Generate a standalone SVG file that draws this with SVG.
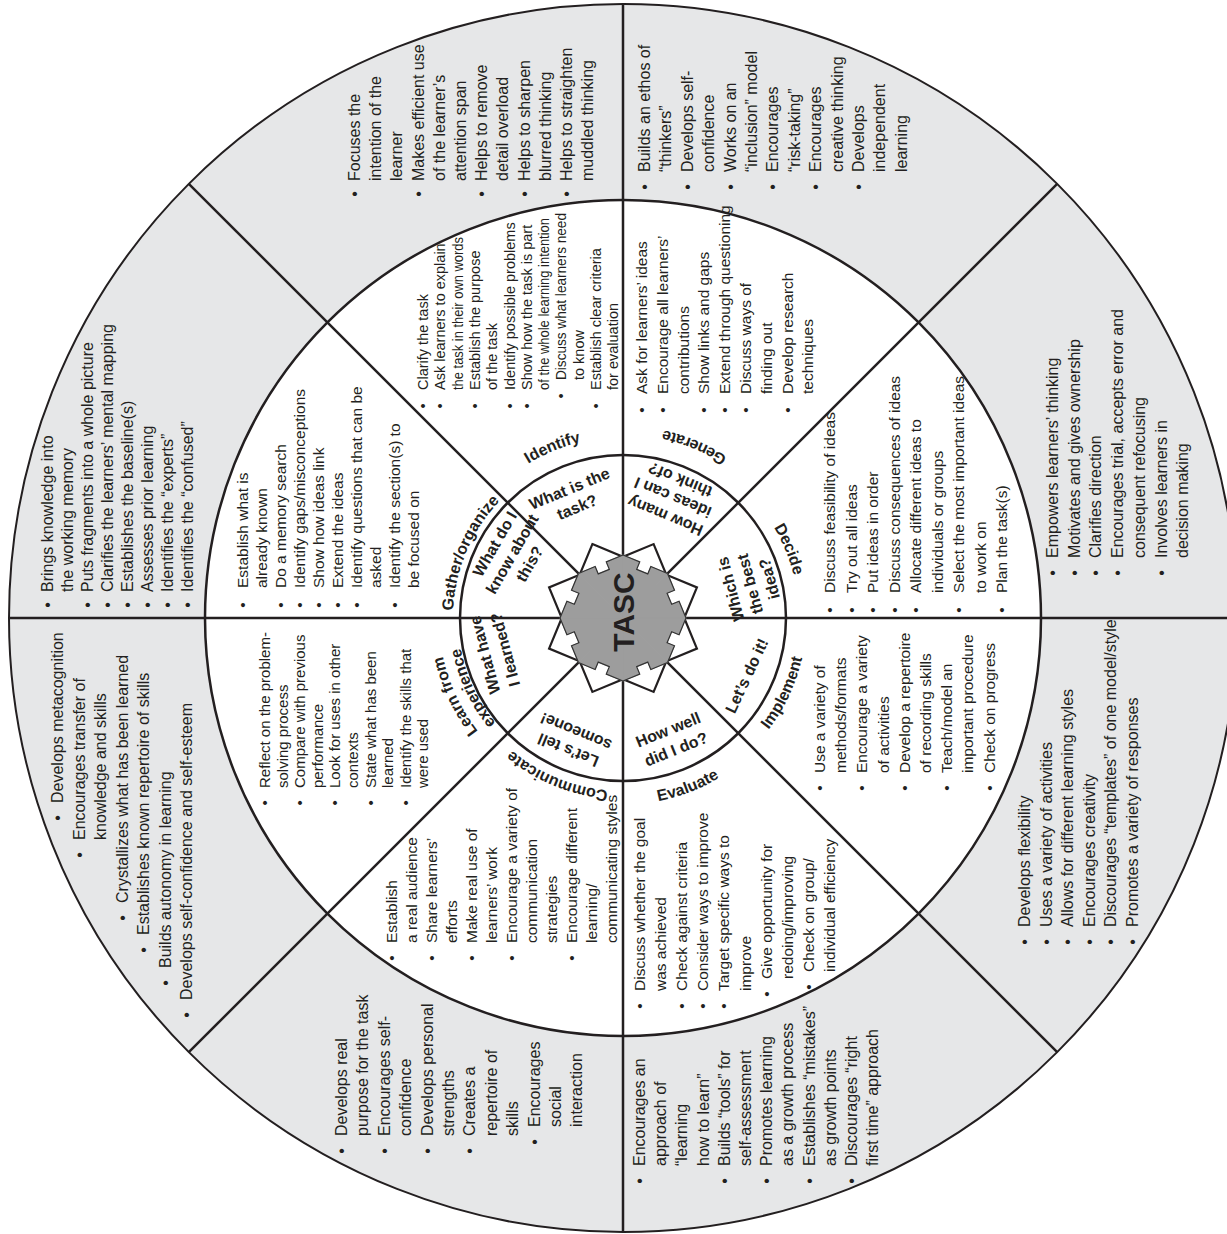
<svg xmlns="http://www.w3.org/2000/svg" width="1227" height="1234" viewBox="0 0 1227 1234">
<style>
.t{font-family:"Liberation Sans",Arial,sans-serif;fill:#231f20}
.g{font-size:16px}
.w{font-size:15.5px}
.s{font-size:14.5px}
.p{font-size:15px}
.lab{font-family:"Liberation Sans",Arial,sans-serif;fill:#231f20;font-size:16px;font-weight:bold}
.q{font-family:"Liberation Sans",Arial,sans-serif;fill:#231f20;font-size:16px;font-weight:bold;text-anchor:middle}
.ring{stroke:#231f20;stroke-width:2.5}
.ln{stroke:#231f20;stroke-width:2.5;fill:none}
</style>
<defs>
<polygon id="gw" points="0,0 0,-63 16.73,-56.07 13.67,-48.68 24.76,-44.09 27.82,-51.48 44.55,-44.55" fill="#9d9d9d" stroke="#9d9d9d" stroke-width="0.8"/>
<polyline id="ge" points="0,-63 16.73,-56.07 13.67,-48.68 24.76,-44.09 27.82,-51.48 44.55,-44.55" fill="none" stroke="#333" stroke-width="1.2"/>
<path id="a-identify" d="M442.17,625.90 A181,181 0 0 1 756.45,495.72"/>
<path id="a-generate" d="M814.82,626.38 A192,192 0 0 0 481.44,488.29"/>
<path id="a-decide" d="M615.32,442.17 A176,176 0 0 1 741.90,747.76"/>
<path id="a-implement" d="M607.01,800.80 A183.5,183.5 0 0 0 752.75,488.25"/>
<path id="a-evaluate" d="M482.25,740.36 A186.5,186.5 0 0 0 809.47,614.75"/>
<path id="a-communicate" d="M750.55,734.88 A173,173 0 0 1 450.16,610.45"/>
<path id="a-learn" d="M639.04,801.30 A184,184 0 0 1 492.89,487.89"/>
<path id="a-exp" d="M637.38,782.37 A165,165 0 0 1 506.33,501.33"/>
<path id="a-gather" d="M507.06,742.33 A170,170 0 0 1 631.90,448.23"/>
</defs>

<g id="rings">
<circle cx="623" cy="618" r="614" fill="#e6e7e8" stroke="#231f20" stroke-width="2"/>
<circle cx="623" cy="618" r="418" fill="#fff" class="ring"/>
<circle cx="623" cy="618" r="163" fill="#fff" class="ring"/>
</g>

<g id="connectors">
<line class="ln" x1="623" y1="4" x2="623" y2="1232"/>
<line class="ln" x1="9" y1="618" x2="1237" y2="618"/>
<line class="ln" x1="188.8" y1="183.8" x2="1057.2" y2="1052.2"/>
<line class="ln" x1="1057.2" y1="183.8" x2="188.8" y2="1052.2"/>
</g>

<g id="hub">
<polygon points="592.39,544.09 623,556.77 653.61,544.09 666.30,574.70 696.91,587.39 684.23,618 696.91,648.61 666.30,661.30 653.61,691.91 623,679.23 592.39,691.91 579.70,661.30 549.09,648.61 561.77,618 549.09,587.39 579.70,574.70" fill="#fff" stroke="#231f20" stroke-width="2.2" stroke-linejoin="miter"/>
<g transform="translate(623,618)">
<use href="#gw"/><use href="#gw" transform="rotate(45)"/><use href="#gw" transform="rotate(90)"/><use href="#gw" transform="rotate(135)"/>
<use href="#gw" transform="rotate(180)"/><use href="#gw" transform="rotate(225)"/><use href="#gw" transform="rotate(270)"/><use href="#gw" transform="rotate(315)"/>
<use href="#ge"/><use href="#ge" transform="rotate(45)"/><use href="#ge" transform="rotate(90)"/><use href="#ge" transform="rotate(135)"/>
<use href="#ge" transform="rotate(180)"/><use href="#ge" transform="rotate(225)"/><use href="#ge" transform="rotate(270)"/><use href="#ge" transform="rotate(315)"/>
</g>
<text class="t" font-size="30" font-weight="bold" text-anchor="middle" transform="translate(634,612) rotate(-90)">TASC</text>
</g>

<g id="stage-labels">
<text class="lab"><textPath href="#a-identify" startOffset="50%" text-anchor="middle">Identify</textPath></text>
<text class="lab"><textPath href="#a-generate" startOffset="50%" text-anchor="middle">Generate</textPath></text>
<text class="lab"><textPath href="#a-decide" startOffset="50%" text-anchor="middle">Decide</textPath></text>
<text class="lab"><textPath href="#a-implement" startOffset="50%" text-anchor="middle">Implement</textPath></text>
<text class="lab"><textPath href="#a-evaluate" startOffset="50%" text-anchor="middle">Evaluate</textPath></text>
<text class="lab"><textPath href="#a-communicate" startOffset="50%" text-anchor="middle">Communicate</textPath></text>
<text class="lab"><textPath href="#a-learn" startOffset="50%" text-anchor="middle">Learn from</textPath></text>
<text class="lab"><textPath href="#a-exp" startOffset="50%" text-anchor="middle">experience</textPath></text>
<text class="lab"><textPath href="#a-gather" startOffset="50%" text-anchor="middle">Gather/organize</textPath></text>
</g>

<g id="questions">
<g id="q-task" transform="rotate(-22.5 623 618)"><text class="q" x="623" y="483.5">What is the</text><text class="q" x="623" y="503.5">task?</text></g>
<g id="q-ideas" transform="rotate(202.5 623 618)"><text class="q" x="623" y="734">How many</text><text class="q" x="623" y="754">ideas can I</text><text class="q" x="623" y="773">think of?</text></g>
<g id="q-best" transform="rotate(255 623 618)"><text class="q" x="623" y="735">Which is</text><text class="q" x="623" y="755">the best</text><text class="q" x="623" y="775">idea?</text></g>
<g id="q-do" transform="rotate(295 623 618)"><text class="q" x="623" y="760">Let’s do it!</text></g>
<g id="q-well" transform="rotate(338 623 618)"><text class="q" x="623" y="744">How well</text><text class="q" x="623" y="765">did I do?</text></g>
<g id="q-tell" transform="rotate(202.5 623 618)"><text class="q" x="623" y="480.5">Let’s tell</text><text class="q" x="623" y="500.5">someone!</text></g>
<g id="q-learned" transform="rotate(255 623 618)"><text class="q" x="623" y="480.5">What have</text><text class="q" x="623" y="501.5">I learned?</text></g>
<g id="q-know" transform="rotate(-60 623 618)"><text class="q" x="623" y="475.5">What do I</text><text class="q" x="623" y="495.5">know about</text><text class="q" x="623" y="515.5">this?</text></g>
</g>

<g id="n-focus"><text class="t g" transform="translate(360,181) rotate(-90)">
<tspan x="-15.8" y="0">•</tspan><tspan x="0" y="0">Focuses the</tspan>
<tspan x="0" y="21.2">intention of the</tspan>
<tspan x="0" y="42.4">learner</tspan>
<tspan x="-15.8" y="63.6">•</tspan><tspan x="0" y="63.6">Makes efficient use</tspan>
<tspan x="0" y="84.8">of the learner’s</tspan>
<tspan x="0" y="106">attention span</tspan>
<tspan x="-15.8" y="127.2">•</tspan><tspan x="0" y="127.2">Helps to remove</tspan>
<tspan x="0" y="148.4">detail overload</tspan>
<tspan x="-15.8" y="169.6">•</tspan><tspan x="0" y="169.6">Helps to sharpen</tspan>
<tspan x="0" y="190.8">blurred thinking</tspan>
<tspan x="-15.8" y="212">•</tspan><tspan x="0" y="212">Helps to straighten</tspan>
<tspan x="0" y="233.2">muddled thinking</tspan>
</text></g>

<g id="n-ethos"><text class="t g" transform="translate(650,172) rotate(-90)">
<tspan x="-17.8" y="0">•</tspan><tspan x="0" y="0">Builds an ethos of</tspan>
<tspan x="0" y="21.4">“thinkers”</tspan>
<tspan x="-17.8" y="42.8">•</tspan><tspan x="0" y="42.8">Develops self-</tspan>
<tspan x="0" y="64.2">confidence</tspan>
<tspan x="-17.8" y="85.6">•</tspan><tspan x="0" y="85.6">Works on an</tspan>
<tspan x="0" y="107">“inclusion” model</tspan>
<tspan x="-17.8" y="128.4">•</tspan><tspan x="0" y="128.4">Encourages</tspan>
<tspan x="0" y="149.8">“risk-taking”</tspan>
<tspan x="-17.8" y="171.2">•</tspan><tspan x="0" y="171.2">Encourages</tspan>
<tspan x="0" y="192.6">creative thinking</tspan>
<tspan x="-17.8" y="214">•</tspan><tspan x="0" y="214">Develops</tspan>
<tspan x="0" y="235.4">independent</tspan>
<tspan x="0" y="256.8">learning</tspan>
</text></g>

<g id="n-empowers"><text class="t g" transform="translate(1058,558) rotate(-90)">
<tspan x="-17.8" y="0">•</tspan><tspan x="0" y="0">Empowers learners’ thinking</tspan>
<tspan x="-17.8" y="21.7">•</tspan><tspan x="0" y="21.7">Motivates and gives ownership</tspan>
<tspan x="-17.8" y="43.4">•</tspan><tspan x="0" y="43.4">Clarifies direction</tspan>
<tspan x="-17.8" y="65.1">•</tspan><tspan x="0" y="65.1">Encourages trial, accepts error and</tspan>
<tspan x="0" y="86.8">consequent refocusing</tspan>
<tspan x="-17.8" y="108.5">•</tspan><tspan x="0" y="108.5">Involves learners in</tspan>
<tspan x="0" y="130.2">decision making</tspan>
</text></g>

<g id="n-flexibility"><text class="t g" transform="translate(1030,927) rotate(-90)">
<tspan x="-17.8" y="0">•</tspan><tspan x="0" y="0">Develops flexibility</tspan>
<tspan x="-17.8" y="21.6">•</tspan><tspan x="0" y="21.6">Uses a variety of activities</tspan>
<tspan x="-17.8" y="43.2">•</tspan><tspan x="0" y="43.2">Allows for different learning styles</tspan>
<tspan x="-17.8" y="64.8">•</tspan><tspan x="0" y="64.8">Encourages creativity</tspan>
<tspan x="-17.8" y="86.4">•</tspan><tspan x="0" y="86.4">Discourages “templates” of one model/style</tspan>
<tspan x="-17.8" y="108">•</tspan><tspan x="0" y="108">Promotes a variety of responses</tspan>
</text></g>

<g id="n-learnhow"><text class="t g" transform="translate(645,1166) rotate(-90)">
<tspan x="-17.8" y="0">•</tspan><tspan x="0" y="0">Encourages an</tspan>
<tspan x="0" y="21.2">approach of</tspan>
<tspan x="0" y="42.4">“learning</tspan>
<tspan x="0" y="63.6">how to learn”</tspan>
<tspan x="-17.8" y="84.8">•</tspan><tspan x="0" y="84.8">Builds “tools” for</tspan>
<tspan x="0" y="106">self-assessment</tspan>
<tspan x="-17.8" y="127.2">•</tspan><tspan x="0" y="127.2">Promotes learning</tspan>
<tspan x="0" y="148.4">as a growth process</tspan>
<tspan x="-17.8" y="169.6">•</tspan><tspan x="0" y="169.6">Establishes “mistakes”</tspan>
<tspan x="0" y="190.8">as growth points</tspan>
<tspan x="-17.8" y="212">•</tspan><tspan x="0" y="212">Discourages “right</tspan>
<tspan x="0" y="233.2">first time” approach</tspan>
</text></g>

<g id="n-purpose"><text class="t g" transform="translate(347,1136) rotate(-90)">
<tspan x="-17.8" y="0">•</tspan><tspan x="0" y="0">Develops real</tspan>
<tspan x="0" y="21.4">purpose for the task</tspan>
<tspan x="-17.8" y="42.8">•</tspan><tspan x="0" y="42.8">Encourages self-</tspan>
<tspan x="0" y="64.2">confidence</tspan>
<tspan x="-17.8" y="85.6">•</tspan><tspan x="0" y="85.6">Develops personal</tspan>
<tspan x="0" y="107">strengths</tspan>
<tspan x="-17.8" y="128.4">•</tspan><tspan x="0" y="128.4">Creates a</tspan>
<tspan x="0" y="149.8">repertoire of</tspan>
<tspan x="0" y="171.2">skills</tspan>
<tspan x="-8.8" y="192.6">•</tspan><tspan x="9" y="192.6">Encourages</tspan>
<tspan x="9" y="214">social</tspan>
<tspan x="9" y="235.4">interaction</tspan>
</text></g>

<g id="n-metacognition"><text class="t g" transform="translate(63,840) rotate(-90)">
<tspan x="19.2" y="0">•</tspan><tspan x="37" y="0">Develops metacognition</tspan>
<tspan x="-17.8" y="21.5">•</tspan><tspan x="0" y="21.5">Encourages transfer of</tspan>
<tspan x="0" y="43">knowledge and skills</tspan>
<tspan x="-80.8" y="64.5">•</tspan><tspan x="-63" y="64.5">Crystallizes what has been learned</tspan>
<tspan x="-112.8" y="86">•</tspan><tspan x="-95" y="86">Establishes known repertoire of skills</tspan>
<tspan x="-145.8" y="107.5">•</tspan><tspan x="-128" y="107.5">Builds autonomy in learning</tspan>
<tspan x="-177.8" y="129">•</tspan><tspan x="-160" y="129">Develops self-confidence and self-esteem</tspan>
</text></g>

<g id="n-knowledge"><text class="t g" transform="translate(53,592) rotate(-90)">
<tspan x="-15.8" y="0">•</tspan><tspan x="0" y="0">Brings knowledge into</tspan>
<tspan x="0" y="20">the working memory</tspan>
<tspan x="-15.8" y="40">•</tspan><tspan x="0" y="40">Puts fragments into a whole picture</tspan>
<tspan x="-15.8" y="60">•</tspan><tspan x="0" y="60">Clarifies the learners’ mental mapping</tspan>
<tspan x="-15.8" y="80">•</tspan><tspan x="0" y="80">Establishes the baseline(s)</tspan>
<tspan x="-15.8" y="100">•</tspan><tspan x="0" y="100">Assesses prior learning</tspan>
<tspan x="-15.8" y="120">•</tspan><tspan x="0" y="120">Identifies the “experts”</tspan>
<tspan x="-15.8" y="140">•</tspan><tspan x="0" y="140">Identifies the “confused”</tspan>
</text></g>

<g id="n-gather"><text class="t w" transform="translate(248,588) rotate(-90)">
<tspan x="-19.7" y="0">•</tspan><tspan x="0" y="0">Establish what is</tspan>
<tspan x="0" y="19">already known</tspan>
<tspan x="-19.7" y="38">•</tspan><tspan x="0" y="38">Do a memory search</tspan>
<tspan x="-19.7" y="57">•</tspan><tspan x="0" y="57">Identify gaps/misconceptions</tspan>
<tspan x="-19.7" y="76">•</tspan><tspan x="0" y="76">Show how ideas link</tspan>
<tspan x="-19.7" y="95">•</tspan><tspan x="0" y="95">Extend the ideas</tspan>
<tspan x="-19.7" y="114">•</tspan><tspan x="0" y="114">Identify questions that can be</tspan>
<tspan x="0" y="133">asked</tspan>
<tspan x="-19.7" y="152">•</tspan><tspan x="0" y="152">Identify the section(s) to</tspan>
<tspan x="0" y="171">be focused on</tspan>
</text></g>

<g id="n-identify"><text class="t s" transform="translate(428,390) rotate(-90)">
<tspan x="-18.5" y="0">•</tspan><tspan x="0" y="0">Clarify the task</tspan>
<tspan x="-18.5" y="17.3">•</tspan><tspan x="0" y="17.3">Ask learners to explain</tspan>
<tspan x="0" y="34.6" textLength="153" lengthAdjust="spacingAndGlyphs">the task in their own words</tspan>
<tspan x="-18.5" y="51.9">•</tspan><tspan x="0" y="51.9">Establish the purpose</tspan>
<tspan x="0" y="69.2">of the task</tspan>
<tspan x="-18.5" y="86.5">•</tspan><tspan x="0" y="86.5">Identify possible problems</tspan>
<tspan x="-18.5" y="103.8">•</tspan><tspan x="0" y="103.8">Show how the task is part</tspan>
<tspan x="0" y="121.1" textLength="172" lengthAdjust="spacingAndGlyphs">of the whole learning intention</tspan>
<tspan x="-8.5" y="138.4">•</tspan><tspan x="10" y="138.4" textLength="167" lengthAdjust="spacingAndGlyphs">Discuss what learners need</tspan>
<tspan x="10" y="155.7">to know</tspan>
<tspan x="-18.5" y="173">•</tspan><tspan x="0" y="173">Establish clear criteria</tspan>
<tspan x="0" y="190.3">for evaluation</tspan>
</text></g>

<g id="n-generate"><text class="t w" transform="translate(647,394) rotate(-90)">
<tspan x="-18.7" y="0">•</tspan><tspan x="0" y="0">Ask for learners’ ideas</tspan>
<tspan x="-18.7" y="20.8">•</tspan><tspan x="0" y="20.8">Encourage all learners’</tspan>
<tspan x="0" y="41.6">contributions</tspan>
<tspan x="-18.7" y="62.4">•</tspan><tspan x="0" y="62.4">Show links and gaps</tspan>
<tspan x="-18.7" y="83.2">•</tspan><tspan x="0" y="83.2">Extend through questioning</tspan>
<tspan x="-18.7" y="104">•</tspan><tspan x="0" y="104">Discuss ways of</tspan>
<tspan x="0" y="124.8">finding out</tspan>
<tspan x="-18.7" y="145.6">•</tspan><tspan x="0" y="145.6">Develop research</tspan>
<tspan x="0" y="166.4">techniques</tspan>
</text></g>

<g id="n-decide"><text class="t w" transform="translate(835,593) rotate(-90)">
<tspan x="-19.7" y="0">•</tspan><tspan x="0" y="0">Discuss feasibility of ideas</tspan>
<tspan x="-19.7" y="21.5">•</tspan><tspan x="0" y="21.5">Try out all ideas</tspan>
<tspan x="-19.7" y="43">•</tspan><tspan x="0" y="43">Put ideas in order</tspan>
<tspan x="-19.7" y="64.5">•</tspan><tspan x="0" y="64.5">Discuss consequences of ideas</tspan>
<tspan x="-19.7" y="86">•</tspan><tspan x="0" y="86">Allocate different ideas to</tspan>
<tspan x="0" y="107.5">individuals or groups</tspan>
<tspan x="-19.7" y="129">•</tspan><tspan x="0" y="129">Select the most important ideas</tspan>
<tspan x="0" y="150.5">to work on</tspan>
<tspan x="-19.7" y="172">•</tspan><tspan x="0" y="172">Plan the task(s)</tspan>
</text></g>

<g id="n-implement"><text class="t w" transform="translate(825,773) rotate(-90)">
<tspan x="-17.7" y="0">•</tspan><tspan x="0" y="0">Use a variety of</tspan>
<tspan x="0" y="21.2">methods/formats</tspan>
<tspan x="-17.7" y="42.4">•</tspan><tspan x="0" y="42.4">Encourage a variety</tspan>
<tspan x="0" y="63.6">of activities</tspan>
<tspan x="-17.7" y="84.8">•</tspan><tspan x="0" y="84.8">Develop a repertoire</tspan>
<tspan x="0" y="106">of recording skills</tspan>
<tspan x="-17.7" y="127.2">•</tspan><tspan x="0" y="127.2">Teach/model an</tspan>
<tspan x="0" y="148.4">important procedure</tspan>
<tspan x="-17.7" y="169.6">•</tspan><tspan x="0" y="169.6">Check on progress</tspan>
</text></g>

<g id="n-evaluate"><text class="t w" transform="translate(645,991) rotate(-90)">
<tspan x="-17.7" y="0">•</tspan><tspan x="0" y="0">Discuss whether the goal</tspan>
<tspan x="0" y="21.1">was achieved</tspan>
<tspan x="-17.7" y="42.2">•</tspan><tspan x="0" y="42.2">Check against criteria</tspan>
<tspan x="-17.7" y="63.3">•</tspan><tspan x="0" y="63.3">Consider ways to improve</tspan>
<tspan x="-17.7" y="84.4">•</tspan><tspan x="0" y="84.4">Target specific ways to</tspan>
<tspan x="0" y="105.5">improve</tspan>
<tspan x="-5.7" y="126.6">•</tspan><tspan x="12" y="126.6">Give opportunity for</tspan>
<tspan x="12" y="147.7">redoing/improving</tspan>
<tspan x="1.3" y="168.8">•</tspan><tspan x="19" y="168.8">Check on group/</tspan>
<tspan x="19" y="189.9">individual efficiency</tspan>
</text></g>

<g id="n-communicate"><text class="t w" transform="translate(397,943) rotate(-90)">
<tspan x="-17.7" y="0">•</tspan><tspan x="0" y="0">Establish</tspan>
<tspan x="0" y="20">a real audience</tspan>
<tspan x="-17.7" y="40">•</tspan><tspan x="0" y="40">Share learners’</tspan>
<tspan x="0" y="60">efforts</tspan>
<tspan x="-17.7" y="80">•</tspan><tspan x="0" y="80">Make real use of</tspan>
<tspan x="0" y="100">learners’ work</tspan>
<tspan x="-17.7" y="120">•</tspan><tspan x="0" y="120">Encourage a variety of</tspan>
<tspan x="0" y="140">communication</tspan>
<tspan x="0" y="160">strategies</tspan>
<tspan x="-17.7" y="180">•</tspan><tspan x="0" y="180">Encourage different</tspan>
<tspan x="0" y="200">learning/</tspan>
<tspan x="0" y="220">communicating styles</tspan>
</text></g>

<g id="n-learn"><text class="t p" transform="translate(270,788) rotate(-90)">
<tspan x="-17.6" y="0">•</tspan><tspan x="0" y="0">Reflect on the problem-</tspan>
<tspan x="0" y="17.6">solving process</tspan>
<tspan x="-17.6" y="35.2">•</tspan><tspan x="0" y="35.2">Compare with previous</tspan>
<tspan x="0" y="52.8">performance</tspan>
<tspan x="-17.6" y="70.4">•</tspan><tspan x="0" y="70.4">Look for uses in other</tspan>
<tspan x="0" y="88">contexts</tspan>
<tspan x="-17.6" y="105.6">•</tspan><tspan x="0" y="105.6">State what has been</tspan>
<tspan x="0" y="123.2">learned</tspan>
<tspan x="-17.6" y="140.8">•</tspan><tspan x="0" y="140.8">Identify the skills that</tspan>
<tspan x="0" y="158.4">were used</tspan>
</text></g>
</svg>
